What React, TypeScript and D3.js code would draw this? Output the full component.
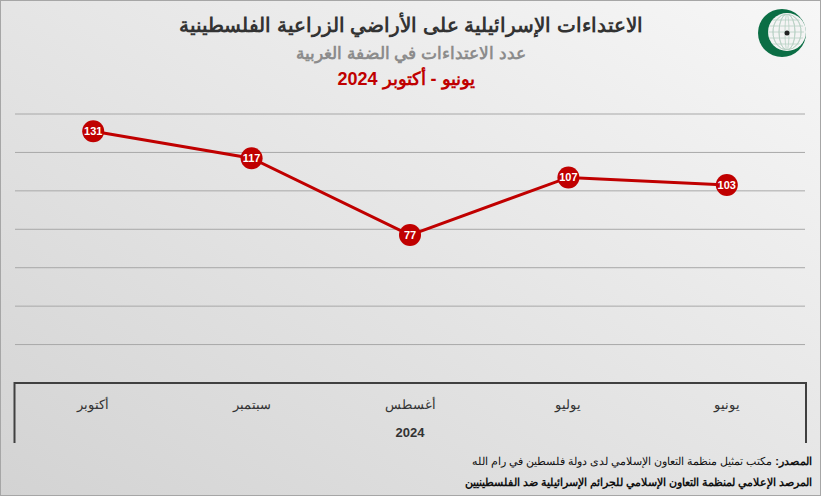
import React from "react";
import * as d3 from "d3";

const categories = ["أكتوبر", "سبتمبر", "أغسطس", "يوليو", "يونيو"];
const values = [131, 117, 77, 107, 103];
const yTicks = [0, 20, 40, 60, 80, 100, 120, 140];
const yearLabel = "2024";
const title = "الاعتداءات الإسرائيلية على الأراضي الزراعية الفلسطينية";
const subtitle = "عدد الاعتداءات في الضفة الغربية";
const period = "يونيو - أكتوبر 2024";
const sourceBold = "المصدر:";
const sourceText = " مكتب تمثيل منظمة التعاون الإسلامي لدى دولة فلسطين في رام الله";
const footer2 = "المرصد الإعلامي لمنظمة التعاون الإسلامي للجرائم الإسرائيلية ضد الفلسطينيين";

const W = 821;
const H = 496;

export default function App() {
  const x = d3.scaleBand<string>().domain(categories).range([14, 806]);
  const y = d3.scaleLinear().domain([0, 140]).range([383, 114]);
  const line = d3
    .line<number>()
    .x((_, i) => (x(categories[i]) as number) + x.bandwidth() / 2)
    .y((d) => y(d));
  const font = "Arial, 'Liberation Sans', sans-serif";
  const globeLines = [-12, -6, 0, 6, 12];

  return (
    <svg
      width={W}
      height={H}
      style={{ position: "absolute", left: 0, top: 0 }}
      fontFamily={font}
    >
      <defs>
        <linearGradient id="bg" x1="1" y1="0" x2="0" y2="1">
          <stop offset="0" stopColor="#f7f7f7" />
          <stop offset="1" stopColor="#d3d3d3" />
        </linearGradient>
        <clipPath id="globe">
          <circle cx={786} cy={32} r={18} />
        </clipPath>
      </defs>
      <rect x={0.5} y={0.5} width={W - 1} height={H - 1} fill="url(#bg)" stroke="#a6a6a6" />

      {/* logo */}
      <g>
        <circle cx={782} cy={33} r={24} fill="#0b6e45" />
        <circle cx={787} cy={32} r={19} fill="#f4f4f4" />
        <g clipPath="url(#globe)" stroke="#b8d0c4" strokeWidth={0.8} fill="none">
          {globeLines.map((g) => (
            <line key={"h" + g} x1={766} x2={806} y1={32 + g} y2={32 + g} />
          ))}
          {globeLines.map((g) => (
            <ellipse key={"v" + g} cx={787} cy={32} rx={Math.abs(g) + 2} ry={18} />
          ))}
        </g>
        <circle cx={787} cy={33} r={2.5} fill="#222" />
      </g>

      {/* titles */}
      <text x={411} y={32} textAnchor="middle" fontSize={20} fontWeight="bold" fill="#333">
        {title}
      </text>
      <text x={411} y={59} textAnchor="middle" fontSize={17} fontWeight="bold" fill="#8c8c8c">
        {subtitle}
      </text>
      <text x={406} y={85} textAnchor="middle" fontSize={18} fontWeight="bold" fill="#c00000">
        {period}
      </text>

      {/* gridlines */}
      {yTicks.slice(1).map((t) => (
        <line key={t} x1={15} x2={805} y1={y(t)} y2={y(t)} stroke="#a8a8a8" strokeWidth={1} />
      ))}

      {/* axis box */}
      <path
        d={`M${x.range()[0] + 0.5},443 V${y(0)} H${x.range()[1]} V443`}
        fill="none"
        stroke="#404040"
        strokeWidth={2}
      />
      {categories.map((c) => (
        <text
          key={c}
          x={(x(c) as number) + x.bandwidth() / 2}
          y={409}
          textAnchor="middle"
          fontSize={13}
          fill="#333"
        >
          {c}
        </text>
      ))}
      <text x={410} y={437} textAnchor="middle" fontSize={13} fontWeight="bold" fill="#333">
        {yearLabel}
      </text>

      {/* line */}
      <path d={line(values) || ""} fill="none" stroke="#c00000" strokeWidth={3} />
      {values.map((v, i) => {
        const cx = (x(categories[i]) as number) + x.bandwidth() / 2;
        const cy = y(v);
        return (
          <g key={i}>
            <circle cx={cx} cy={cy} r={11} fill="#c00000" />
            <text x={cx} y={cy + 4} textAnchor="middle" fontSize={11} fontWeight="bold" fill="#fff">
              {v}
            </text>
          </g>
        );
      })}

      {/* footer */}
      <text x={812} y={465} textAnchor="start" fontSize={11} fill="#111" direction="rtl">
        <tspan fontWeight="bold">{sourceBold}</tspan>
        <tspan>{sourceText}</tspan>
      </text>
      <text x={812} y={486} textAnchor="start" fontSize={11} fontWeight="bold" fill="#111" direction="rtl">
        {footer2}
      </text>
    </svg>
  );
}
